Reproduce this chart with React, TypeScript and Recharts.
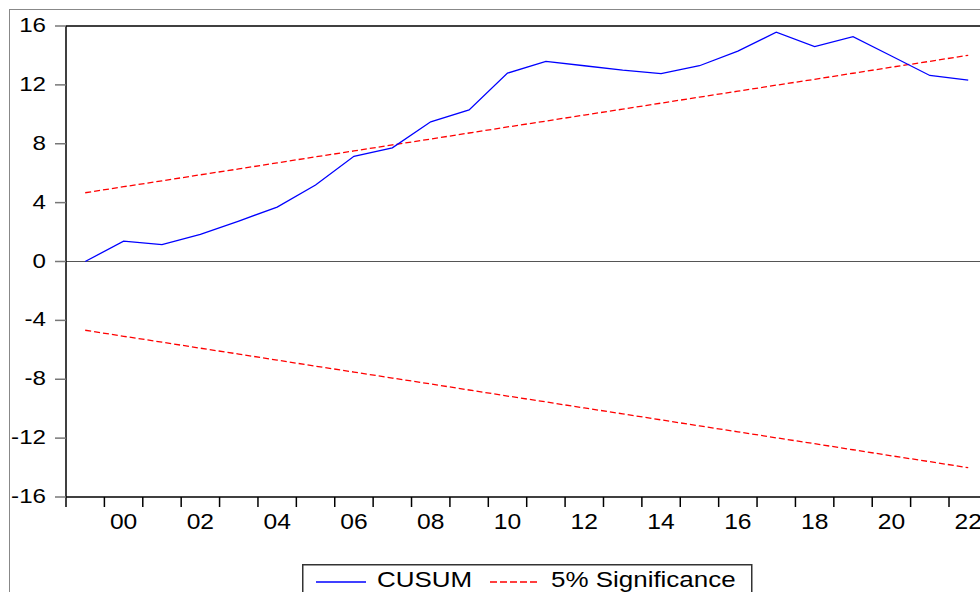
import React from 'react';
import { LineChart, Line, XAxis, YAxis, ReferenceLine, Legend } from 'recharts';

const YEARS = [1999, 2000, 2001, 2002, 2003, 2004, 2005, 2006, 2007, 2008, 2009, 2010, 2011, 2012, 2013, 2014, 2015, 2016, 2017, 2018, 2019, 2020, 2021, 2022];
const CUSUM = [0, 1.38, 1.15, 1.85, 2.75, 3.7, 5.2, 7.15, 7.72, 9.49, 10.3, 12.8, 13.6, 13.3, 13.0, 12.77, 13.3, 14.29, 15.58, 14.6, 15.28, 13.96, 12.64, 12.32];
const UPPER = [4.67, 5.08, 5.48, 5.89, 6.29, 6.7, 7.11, 7.51, 7.92, 8.32, 8.73, 9.14, 9.54, 9.95, 10.35, 10.76, 11.17, 11.57, 11.98, 12.38, 12.79, 13.2, 13.6, 14.01];
const LOWER = [-4.67, -5.08, -5.48, -5.89, -6.29, -6.7, -7.11, -7.51, -7.92, -8.32, -8.73, -9.14, -9.54, -9.95, -10.35, -10.76, -11.17, -11.57, -11.98, -12.38, -12.79, -13.2, -13.6, -14.01];
const Y_TICKS = [-16, -12, -8, -4, 0, 4, 8, 12, 16];
const X_LABELS = [2000, 2002, 2004, 2006, 2008, 2010, 2012, 2014, 2016, 2018, 2020, 2022];

const data = YEARS.map((y, i) => ({ year: y, cusum: CUSUM[i], upper: UPPER[i], lower: LOWER[i] }));

// tick marks sit on the year boundaries, labels in the middle of the year
const boundaries = [YEARS[0] - 0.5, ...YEARS.map((y) => y + 0.5)];
const xTicks = [...boundaries, ...X_LABELS].sort((a, b) => a - b);

const FONT = '"Liberation Sans", Arial, sans-serif';

const XTick = (props: any) => {
    const { x, y, payload } = props;
    const v = payload.value;
    if (Number.isInteger(v)) {
        return (
            <text transform={`translate(${x},${y + 32}) scale(1.12,1)`} textAnchor="middle"
                fontFamily={FONT} fontSize={22} fill="#000">
                {String(v).slice(2)}
            </text>
        );
    }
    return <line x1={x} x2={x} y1={y} y2={y + 10} stroke="#000" strokeWidth={1.5} />;
};

const YTick = (props: any) => {
    const { x, y, payload } = props;
    return (
        <g>
            <line x1={x - 11} x2={x} y1={y} y2={y} stroke="#777" strokeWidth={1.5} />
            <text transform={`translate(${x - 20},${y + 6}) scale(1.15,1)`} textAnchor="end"
                fontFamily={FONT} fontSize={21} fill="#000">
                {payload.value}
            </text>
        </g>
    );
};

const LegendBox = () => (
    <svg width={452} height={40}>
        <rect x={0.75} y={0.75} width={449} height={40} fill="#fff" stroke="#333" strokeWidth={1.5} />
        <line x1={14} x2={64} y1={18} y2={18} stroke="#0000ff" strokeWidth={1.3} />
        <text transform="translate(75,23) scale(1.18,1)" fontFamily={FONT} fontSize={22} fill="#000">CUSUM</text>
        <line x1={188} x2={238} y1={18} y2={18} stroke="#ff0000" strokeWidth={1.3} strokeDasharray="7 3" />
        <text transform="translate(249,23) scale(1.18,1)" fontFamily={FONT} fontSize={22} fill="#000">5% Significance</text>
    </svg>
);

export default function App() {
    return (
        <div style={{ position: 'absolute', left: 0, top: 0, width: 980, height: 592, overflow: 'hidden', background: '#fff' }}>
            <div style={{ position: 'absolute', left: 9, top: 9, width: 2000, height: 2000, borderLeft: '1.5px solid #888', borderTop: '1.5px solid #888' }} />
            <div style={{ position: 'absolute', left: 0, top: 0 }}>
                <LineChart width={1000} height={592} data={data} margin={{ top: 26, right: 12.6, bottom: 65, left: 0 }}>
                    <XAxis dataKey="year" type="number" domain={[1998.5, 2022.5]} ticks={xTicks} interval={0}
                        tick={<XTick />} tickLine={false} tickSize={0} tickMargin={0} height={30}
                        axisLine={{ stroke: '#000', strokeWidth: 1.5 }} allowDataOverflow />
                    <YAxis type="number" domain={[-16, 16]} ticks={Y_TICKS} interval={0} width={66}
                        tick={<YTick />} tickLine={false} tickSize={0} tickMargin={0}
                        axisLine={{ stroke: '#000', strokeWidth: 1.5 }} />
                    <ReferenceLine y={16} stroke="#000" strokeWidth={1.5} />
                    <ReferenceLine y={0} stroke="#555" strokeWidth={1} />
                    <Line dataKey="upper" name="5% Significance" stroke="#ff0000" strokeWidth={1.3} strokeDasharray="6 3" dot={false} isAnimationActive={false} />
                    <Line dataKey="lower" stroke="#ff0000" strokeWidth={1.3} strokeDasharray="6 3" dot={false} isAnimationActive={false} legendType="none" />
                    <Line dataKey="cusum" name="CUSUM" stroke="#0000ff" strokeWidth={1.3} dot={false} isAnimationActive={false} />
                    <Legend verticalAlign="middle" content={<LegendBox />}
                        wrapperStyle={{ left: 302, top: 564, width: 452, height: 40 }} />
                </LineChart>
            </div>
        </div>
    );
}
